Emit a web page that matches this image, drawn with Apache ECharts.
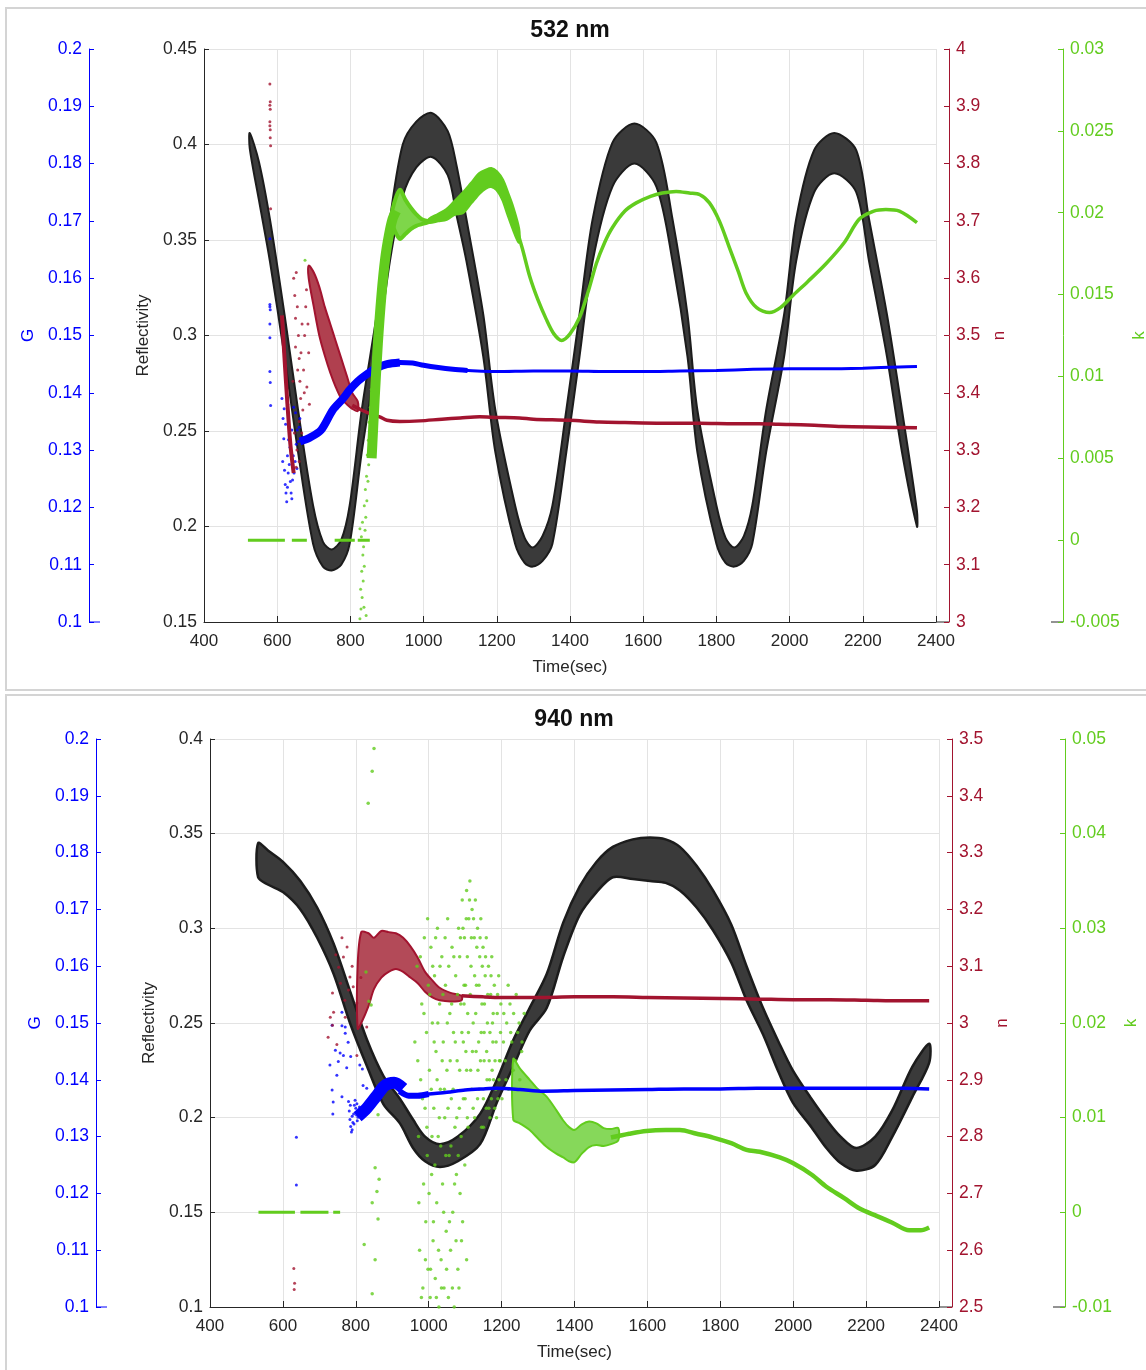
<!DOCTYPE html>
<html>
<head>
<meta charset="utf-8">
<script src="https://cdn.jsdelivr.net/npm/echarts@6/dist/echarts.min.js"></script>
<style>
  html, body { margin: 0; padding: 0; background: #fff; }
  #container { width: 1146px; height: 1370px; }
</style>
</head>
<body>
<div id="container"></div>
<script>
/* ===== 532 nm panel data ===== */
// reflectivity band: upper / lower envelope
var t532R = [525,550,580,620,657,698,725,749,775,798,831,872,908,943,980,1022,1066,1090,1117,1163,1196,1250,1276,1298,1325,1352,1390,1426,1462,1516,1576,1636,1680,1721,1748,1800,1825,1849,1875,1898,1936,1985,2018,2067,2122,2182,2217,2266,2307,2348];
var r532Up = [.406,.391,.361,.311,.261,.211,.192,.188,.193,.211,.261,.311,.361,.400,.412,.4165,.407,.389,.361,.311,.261,.211,.194,.189,.195,.211,.261,.311,.361,.401,.411,.401,.361,.311,.261,.211,.194,.189,.195,.211,.261,.311,.361,.397,.406,.397,.361,.311,.261,.208];
var r532Lo = [.398,.371,.339,.289,.239,.191,.179,.177,.180,.191,.239,.289,.339,.373,.388,.3935,.384,.363,.339,.289,.239,.191,.181,.179,.182,.191,.239,.289,.339,.378,.390,.378,.339,.289,.239,.191,.181,.179,.182,.191,.239,.289,.339,.375,.385,.375,.339,.289,.239,.200];

// G (blue)
var g532Pts = [[580,.1669],[580,.1554],[580,.1550],[581,.1545],[580,.1520],[580,.1496],[580,.1437],[581,.1418],[582,.1378],
  [613,.139],[616,.1355],[618,.132],[615,.128],[620,.1265],[622,.124],[624,.1225],[626,.121],[628,.1235],[630,.126],[628,.129],
  [633,.1275],[636,.1245],[638,.1225],[640,.1215],[635,.1305],[640,.1335],[644,.129],[646,.126],[649,.128],[652,.131],[655,.1335],
  [658,.1315],[660,.134],[662,.1355],[645,.1375],[650,.1365],[619,.1372],[623,.1345],[631,.1318],[642,.1248],[654,.1268]];
var t532GBand = [662,690,720,752,780,798,820,844,871,900,935];
var g532Band = [.1315,.1322,.1335,.137,.139,.1405,.142,.1432,.1443,.145,.1453];
var t532GMid = [900,935,970,1000,1040,1080,1120];
var g532Mid = [.145,.1453,.1452,.1448,.1444,.1441,.1439];
var t532G = [1100,1200,1300,1400,1500,1600,1700,1800,1900,2000,2100,2200,2300,2348];
var g532 = [.144,.1437,.1438,.1438,.1437,.1437,.1438,.1439,.1441,.1442,.1442,.1443,.1445,.1446];

// n (red)
var n532Pts = [[580,3.939],[581,3.908],[580,3.902],[581,3.895],[580,3.873],[580,3.866],[581,3.859],[581,3.845],[582,3.831],[582,3.721],
  [645,3.60],[648,3.57],[652,3.61],[650,3.53],[655,3.55],[658,3.50],[660,3.46],[656,3.44],[662,3.42],[665,3.47],[668,3.52],
  [664,3.39],[670,3.37],[672,3.44],[675,3.50],[678,3.55],[680,3.58],[667,3.33],[660,3.35],[674,3.40],[684,3.52],[686,3.47],
  [681,3.41],[688,3.38],[650,3.48],[643,3.42],[654,3.30],[660,3.28],[647,3.33],[652,3.27]];
var t532NStripe = [613,620,628,636,645];
var n532Stripe = [3.535,3.46,3.38,3.31,3.26];
var t532NBand = [686,700,715,730,745,760,775,790,805,820];
var n532Up = [3.622,3.61,3.585,3.55,3.52,3.49,3.46,3.43,3.40,3.385];
var n532Lo = [3.60,3.55,3.50,3.465,3.435,3.41,3.39,3.38,3.372,3.368];
var t532N = [805,830,860,880,900,935,990,1050,1100,1153,1200,1262,1300,1400,1480,1550,1650,1753,1850,1917,1970,2050,2143,2250,2348];
var n532 = [3.378,3.370,3.362,3.358,3.352,3.350,3.351,3.354,3.356,3.358,3.357,3.356,3.354,3.352,3.349,3.348,3.347,3.347,3.346,3.346,3.345,3.344,3.341,3.340,3.339];

// k (green)
var k532Zero = [[520,621],[640,681],[757,812],[820,853]];
var k532Pts = [[676,.0171],[826,-.0048],[829,-.0042],[832,-.0035],[828,-.0030],[835,-.0025],[831,-.0019],[838,-.0016],[834,-.0009],
  [836,-.0004],[840,.0006],[833,.0011],[842,.0014],[838,.0021],[845,.0024],[841,.0031],[848,.0036],[844,.0039],[850,.0046],
  [846,.0052],[853,.0054],[849,.0061],[855,.0066],[851,.0072],[858,.0074],[854,.0081],[860,.0086],[857,.0092],[862,.0097],
  [837,-.0041],[843,-.0046],[830,.0002],[826,.0007]];
var t532KRise = [858,866,875,885,895,905,915,925];
var k532Rise = [.005,.0085,.012,.015,.0172,.0186,.0196,.0201];
var t532KFish = [915,935,950,965,980,995,1010,1022];
var k532FishUp = [.0202,.0214,.0208,.0203,.0199,.0196,.0195,.0195];
var k532FishLo = [.0193,.0184,.0187,.0190,.0192,.0193,.0194,.0195];
var t532KMid = [1015,1040,1063,1085,1107,1130,1153,1170,1185,1200,1216,1230,1243,1260];
var k532MidUp = [.0196,.0199,.0202,.0207,.0212,.0218,.0224,.0226,.0227,.0225,.0220,.0212,.0204,.0190];
var k532MidLo = [.0194,.0195,.0196,.0199,.0200,.0206,.0212,.0215,.0216,.0214,.0208,.0199,.0191,.0182];
var t532K = [1250,1270,1290,1312,1335,1356,1377,1400,1426,1450,1472,1495,1516,1550,1581,1620,1652,1690,1726,1755,1781,1808,1835,1860,1881,1910,1945,1975,2007,2050,2100,2150,2190,2230,2263,2300,2348];
var k532 = [.0193,.0178,.0161,.0147,.0135,.0126,.0122,.0126,.0136,.0152,.0169,.0182,.0191,.0201,.0206,.021,.0212,.0213,.0212,.0211,.0206,.0195,.0179,.0164,.0151,.0142,.0139,.0142,.0149,.0158,.0169,.0182,.0196,.0201,.0202,.0201,.0194];

/* ===== 940 nm panel data ===== */
var t940R = [532,560,601,648,694,739,784,831,876,921,957,990,1031,1080,1141,1187,1232,1277,1324,1369,1414,1460,1505,1560,1607,1650,1689,1735,1780,1830,1872,1917,1960,1999,2050,2091,2130,2173,2225,2272,2327,2373];
var r940Up = [.345,.341,.335,.325,.311,.292,.267,.241,.222,.210,.199,.190,.186,.190,.202,.220,.241,.258,.276,.303,.322,.335,.343,.347,.348,.347,.343,.333,.320,.302,.280,.258,.240,.225,.210,.199,.190,.184,.190,.204,.227,.239];
var r940Lo = [.327,.323,.319,.310,.295,.276,.250,.227,.207,.197,.184,.177,.174,.177,.186,.208,.227,.246,.258,.285,.307,.319,.327,.326,.325,.324,.320,.311,.299,.282,.262,.244,.224,.208,.195,.184,.176,.172,.175,.190,.211,.229];

// G (blue)
var g940Pts = [[637,.1299],[637,.1215],[762,.1495],[771,.1482],[779,.1466],[757,.1447],[766,.1443],[729,.1426],[748,.1408],
  [735,.1382],[738,.1361],[762,.137],[737,.134],[775,.1421],[811,.1426],[820,.139],[830,.1385],[818,.1419],[762,.1519],
  [771,.1493],[735,.1496],[744,.1452],[752,.1432],[786,.1441],
  [780,.1362],[782,.1345],[784,.133],[786,.1318],[788,.1308],[790,.1312],[792,.1325],[794,.134],[796,.1355],[798,.1364],
  [800,.135],[802,.1338],[804,.1328],[806,.1334],[808,.1346],[785,.1355],[795,.1322],[803,.1358],[810,.1352],[790,.1336]];
var t940GBand = [805,830,855,880,905,930];
var g940Band = [.1335,.135,.137,.139,.1395,.1385];
var t940GMid = [920,945,970,1000];
var g940Mid = [.138,.1372,.1372,.1375];
var t940G = [960,1000,1050,1100,1150,1187,1250,1315,1400,1500,1600,1700,1800,1900,2000,2100,2200,2300,2373];
var g940 = [.1372,.1375,.1378,.1382,.1384,.1385,.1383,.138,.1381,.1382,.1383,.1384,.1384,.1385,.1385,.1385,.1385,.1385,.1384];

// n (red)
var n940Pts = [[630,2.568],[632,2.542],[631,2.531],[762,3.150],[776,3.134],[766,3.116],[736,3.053],[753,3.098],[784,3.081],
  [780,3.058],[793,3.064],[739,3.019],[771,3.010],[730,3.010],[803,3.035],[814,3.080],[736,2.996],[803,2.943],[830,2.993],
  [745,3.12],[758,3.07],[790,3.10],[770,3.04],[724,2.975],[748,2.962]];
var t940NBand = [805,815,835,850,870,890,910,930,950,970,990,1010,1030,1060,1090];
var n940Up = [3.10,3.16,3.158,3.15,3.162,3.16,3.158,3.15,3.135,3.115,3.09,3.075,3.062,3.053,3.048];
var n940Lo = [2.99,3.00,3.03,3.06,3.08,3.09,3.095,3.09,3.08,3.07,3.055,3.045,3.040,3.038,3.040];
var t940N = [1090,1150,1200,1300,1400,1506,1600,1700,1800,1908,2000,2100,2200,2300,2373];
var n940 = [3.048,3.046,3.045,3.045,3.046,3.046,3.045,3.044,3.043,3.042,3.041,3.041,3.040,3.039,3.039];

// k (green)
var k940Zero = [[533,633],[648,725],[738,757]];
var k940Pts = [[850,.049],[845,.0466],[834,.0432],[828,.0254],[836,.0223],[842,.0219],[861,.0103],[853,.0047],[864,.0035],
  [858,.0022],[845,.001],[861,-.0007],[823,-.0034],[853,-.005],[845,-.0086],
  [962,.018],[968,.026],[972,.008],[975,-.004],[978,.014],[981,.022],[984,-.008],[986,.003],[988,.029],[990,.011],[992,-.001],
  [994,.019],[996,.006],[998,-.006],[999,.024],
  [1002,.015],[1004,-.009],[1006,.028],[1008,.004],[1010,.020],[1012,-.003],[1014,.011],[1016,.025],[1018,-.007],[1020,.017],
  [1022,.001],[1024,.030],[1026,.008],[1028,-.010],[1030,.022],[1032,.013],[1034,-.005],[1036,.027],[1038,.003],[1040,.018],
  [1042,-.008],[1044,.010],[1046,.024],[1048,-.002],[1050,.015],[1052,.031],[1054,-.009],[1056,.006],[1058,.021],[1060,-.004],
  [1062,.012],[1064,.028],[1066,.000],[1068,.019],[1070,-.010],[1072,.009],[1074,.025],[1076,.004],[1078,.016],[1080,-.006],
  [1082,.030],[1084,.011],[1086,.002],[1088,.022],[1090,-.003],
  [970,.016],[973,.001],[977,.027],[980,-.009],[983,.012],[987,.021],[991,-.005],[995,.009],[997,.031],[1001,.002],[1003,.023],
  [1005,-.006],[1007,.013],[1009,.008],[1011,.026],[1013,-.001],[1015,.018],[1017,.005],[1019,.029],[1021,-.009],[1023,.014],
  [1025,.020],[1027,-.004],[1029,.010],[1031,.026],[1033,.007],[1035,-.008],[1037,.016],[1039,.023],[1041,.000],[1043,.013],
  [1045,.029],[1047,.006],[1049,-.006],[1051,.020],[1053,.011],[1055,.026],[1057,-.001],[1059,.016],[1061,.007],[1063,.022],
  [1065,-.008],[1067,.013],[1069,.027],[1071,.003],[1073,.018],[1075,-.003],[1077,.010],[1079,.023],[1081,.006],[1083,-.008],
  [1085,.015],[1087,.029],[1089,.008],[1091,.019],[1093,-.001],[1095,.012],[1097,.024],[1099,.005],[1102,.017],[1104,-.005],
  [1106,.010],
  [1085,.027],[1092,.033],[1095,.018],[1098,.029],[1101,.024],[1104,.034],[1107,.021],[1110,.031],[1113,.035],[1116,.026],
  [1119,.032],[1122,.020],[1125,.029],[1128,.033],[1131,.024],[1134,.030],[1137,.018],[1140,.027],[1143,.031],[1146,.022],
  [1149,.028],[1152,.016],[1155,.025],[1158,.029],[1161,.020],[1164,.026],[1167,.014],[1170,.023],[1173,.027],[1176,.018],
  [1180,.024],[1184,.013],[1188,.021],[1192,.025],[1196,.016],
  [1094,.030],[1097,.022],[1103,.031],[1106,.027],[1109,.019],[1112,.033],[1114,.023],[1117,.029],[1120,.017],[1123,.031],
  [1126,.025],[1129,.021],[1132,.028],[1135,.015],[1138,.024],[1141,.029],[1144,.019],[1147,.026],[1150,.012],[1153,.022],
  [1156,.027],[1159,.017],[1162,.023],[1165,.011],[1168,.019],[1171,.025],[1174,.015],[1177,.021],[1181,.011],[1185,.018],
  [1189,.023],[1193,.014],[1197,.019],[1201,.012],[1206,.021],[1210,.016],[1214,.020],[1219,.013],[1223,.022],[1228,.018],
  [1233,.021],[1238,.016],[1244,.019],[1250,.014],[1256,.018],[1104,.015],[1118,.013],[1126,.010],[1134,.012],[1142,.016],
  [1150,.009],[1158,.011],[1166,.016],[1172,.012],[1178,.014],[1186,.010],[1194,.016],
  [1100,.012],[1108,.009],[1115,.015],[1122,.011],[1130,.017],[1138,.013],[1145,.009],[1152,.019],[1160,.014],[1168,.010],
  [1175,.020],[1182,.016],[1190,.012],[1198,.022],[1205,.018],[1212,.014],[1218,.024],[1225,.019],[1232,.015],[1240,.023],
  [1248,.020],[1255,.017],[1262,.021]];
var t940KBand = [1232,1250,1277,1300,1324,1350,1369,1385,1400,1420,1440,1460,1480,1500,1520];
var k940Up = [.0162,.0152,.014,.013,.0122,.0108,.0097,.009,.0087,.0093,.0096,.0094,.0089,.0088,.0089];
var k940Lo = [.0098,.0094,.0087,.0078,.0069,.0062,.0058,.0054,.0053,.0062,.0069,.0071,.0070,.0072,.0076];
var t940K = [1500,1550,1597,1650,1689,1735,1780,1830,1872,1908,1963,1999,2050,2091,2140,2182,2230,2272,2318,2350,2373];
var k940 = [.0079,.0083,.0086,.0087,.0087,.0083,.0079,.0073,.0066,.0064,.0058,.0052,.004,.0027,.0015,.0004,-.0004,-.0011,-.0019,-.0019,-.0016];

/* ===== chart ===== */
var FONT = 'Liberation Sans, Arial, sans-serif';
var C_R = '#1c1c1c', C_AX = '#262626', C_G = '#0000ff', C_N = '#a2142f', C_K = '#62cc1e';

var dom = document.getElementById('container');
var myChart = echarts.init(dom, null, { renderer: 'canvas' });

function zip(t, v) {
  return t.map(function (x, i) { return [x, v[i]]; });
}

function gapped(segs) {
  var out = [];
  segs.forEach(function (s) {
    out.push([s[0], 0], [s[1], 0], [s[1] + 1, '-']);
  });
  return out;
}

function line(xi, yi, t, v, color, w, opts) {
  var s = {
    type: 'line', xAxisIndex: xi, yAxisIndex: yi, data: zip(t, v),
    symbol: 'none', smooth: 0.3, lineStyle: { color: color, width: w }
  };
  return Object.assign(s, opts || {});
}

// filled band between two envelopes, drawn as one polygon in axis coords
function band(xi, yi, t, up, lo, fill, stroke, w) {
  return {
    type: 'custom', xAxisIndex: xi, yAxisIndex: yi, clip: true, silent: true,
    data: [[t[0], up[0]]],
    renderItem: function (params, api) {
      var pts = [];
      for (var i = 0; i < t.length; i++) pts.push(api.coord([t[i], up[i]]));
      for (var j = t.length - 1; j >= 0; j--) pts.push(api.coord([t[j], lo[j]]));
      return {
        type: 'polygon',
        shape: { points: pts, smooth: 0.3 },
        style: { fill: fill, stroke: stroke, lineWidth: w, lineJoin: 'round' }
      };
    }
  };
}

function dots(xi, yi, pts, color, size) {
  return { type: 'scatter', xAxisIndex: xi, yAxisIndex: yi, data: pts, symbol: 'circle',
           symbolSize: size || 3, itemStyle: { color: color } };
}

function xAx(grid) {
  return {
    type: 'value', gridIndex: grid, min: 400, max: 2400, interval: 200,
    name: 'Time(sec)', nameLocation: 'middle', nameGap: 37,
    nameTextStyle: { color: C_AX, fontSize: 17, fontFamily: FONT },
    axisLine: { onZero: false, lineStyle: { color: C_AX } },
    axisTick: { inside: true, length: 6, lineStyle: { color: C_AX } },
    axisLabel: { color: C_AX, fontSize: 17, fontFamily: FONT, margin: 11,
                 formatter: function (v) { return String(v); } },
    splitLine: { show: true, lineStyle: { color: '#e3e3e3' } }
  };
}

function yAx(grid, pos, offset, min, max, step, color, name, gap, split) {
  return {
    type: 'value', gridIndex: grid, position: pos, offset: offset,
    min: min, max: max, interval: step,
    name: name, nameLocation: 'middle', nameGap: gap,
    nameTextStyle: { color: color, fontSize: 17, fontFamily: FONT },
    axisLine: { show: true, onZero: false, lineStyle: { color: color } },
    axisTick: { show: true, inside: true, length: 5, lineStyle: { color: color } },
    axisLabel: { color: color, fontSize: 17.5, fontFamily: FONT, margin: 7 },
    splitLine: { show: split, lineStyle: { color: '#e3e3e3' } }
  };
}

var series = [];
// --- 532 nm ---
series.push(band(0, 0, t532R, r532Up, r532Lo, '#3a3a3a', C_R, 2));
series.push(dots(0, 1, g532Pts, C_G));
series.push(line(0, 1, t532GBand, g532Band, C_G, 8));
series.push(line(0, 1, t532GMid, g532Mid, C_G, 5));
series.push(line(0, 1, t532G, g532, C_G, 3));
series.push(dots(0, 2, n532Pts, C_N));
series.push(line(0, 2, t532NStripe, n532Stripe, C_N, 4));
series.push(band(0, 2, t532NBand, n532Up, n532Lo, '#b0404f', C_N, 2));
series.push(line(0, 2, t532N, n532, C_N, 3.5));
series.push(line(0, 3, [], [], C_K, 3, { data: gapped(k532Zero), smooth: false }));
series.push(dots(0, 3, k532Pts, C_K));
series.push(line(0, 3, t532KRise, k532Rise, C_K, 10));
series.push(band(0, 3, t532KFish, k532FishUp, k532FishLo, '#7ed64a', C_K, 4));
series.push(band(0, 3, t532KMid, k532MidUp, k532MidLo, C_K, C_K, 3));
series.push(line(0, 3, t532K, k532, C_K, 3.5));
// --- 940 nm ---
series.push(band(1, 4, t940R, r940Up, r940Lo, '#3a3a3a', C_R, 2.5));
series.push(dots(1, 5, g940Pts, C_G));
series.push(line(1, 5, t940GBand, g940Band, C_G, 12));
series.push(line(1, 5, t940GMid, g940Mid, C_G, 6));
series.push(line(1, 5, t940G, g940, C_G, 3.5));
series.push(dots(1, 6, n940Pts, C_N));
series.push(band(1, 6, t940NBand, n940Up, n940Lo, '#b34a58', C_N, 2));
series.push(line(1, 6, t940N, n940, C_N, 3.5));
series.push(line(1, 7, [], [], C_K, 3, { data: gapped(k940Zero), smooth: false }));
series.push(dots(1, 7, k940Pts, C_K, 3.5));
series.push(band(1, 7, t940KBand, k940Up, k940Lo, '#86d85a', C_K, 2));
series.push(line(1, 7, t940K, k940, C_K, 4.5));

var option = {
  animation: false,
  backgroundColor: '#fff',
  textStyle: { fontFamily: FONT },
  grid: [
    { left: 204, top: 49, width: 732, height: 573, containLabel: false, outerBoundsMode: 'none' },
    { left: 210, top: 739, width: 729, height: 568, containLabel: false, outerBoundsMode: 'none' }
  ],
  xAxis: [xAx(0), xAx(1)],
  yAxis: [
    yAx(0, 'left', 0, 0.15, 0.45, 0.05, C_AX, 'Reflectivity', 45, true),
    yAx(0, 'left', 115, 0.1, 0.2, 0.01, C_G, 'G', 44, false),
    yAx(0, 'right', 13, 3, 4, 0.1, C_N, 'n', 42, false),
    yAx(0, 'right', 127, -0.005, 0.03, 0.005, C_K, 'k', 66, false),
    yAx(1, 'left', 0, 0.1, 0.4, 0.05, C_AX, 'Reflectivity', 45, true),
    yAx(1, 'left', 114, 0.1, 0.2, 0.01, C_G, 'G', 48, false),
    yAx(1, 'right', 13, 2.5, 3.5, 0.1, C_N, 'n', 42, false),
    yAx(1, 'right', 126, -0.01, 0.05, 0.01, C_K, 'k', 56, false)
  ],
  graphic: [
    { type: 'rect', shape: { x: 6, y: 8, width: 1160, height: 682 }, style: { fill: 'none', stroke: '#d4d4d4', lineWidth: 2 }, silent: true },
    { type: 'rect', shape: { x: 6, y: 695, width: 1160, height: 690 }, style: { fill: 'none', stroke: '#d4d4d4', lineWidth: 2 }, silent: true },
    { type: 'text', x: 570, y: 31, style: { text: '532 nm', fontSize: 23, fontWeight: 'bold', fontFamily: FONT, fill: '#111', align: 'center', verticalAlign: 'middle' } },
    { type: 'text', x: 574, y: 720, style: { text: '940 nm', fontSize: 23, fontWeight: 'bold', fontFamily: FONT, fill: '#111', align: 'center', verticalAlign: 'middle' } },
    { type: 'line', shape: { x1: 89, y1: 622, x2: 100, y2: 622 }, style: { stroke: C_G, lineWidth: 1 } },
    { type: 'line', shape: { x1: 1051, y1: 622, x2: 1063, y2: 622 }, style: { stroke: C_AX, lineWidth: 1 } },
    { type: 'line', shape: { x1: 936, y1: 622, x2: 949, y2: 622 }, style: { stroke: C_AX, lineWidth: 1 } },
    { type: 'line', shape: { x1: 96, y1: 1307, x2: 107, y2: 1307 }, style: { stroke: C_G, lineWidth: 1 } },
    { type: 'line', shape: { x1: 1053, y1: 1307, x2: 1065, y2: 1307 }, style: { stroke: C_AX, lineWidth: 1 } },
    { type: 'line', shape: { x1: 939, y1: 1307, x2: 952, y2: 1307 }, style: { stroke: C_AX, lineWidth: 1 } }
  ],
  series: series
};

myChart.setOption(option);
</script>
</body>
</html>
